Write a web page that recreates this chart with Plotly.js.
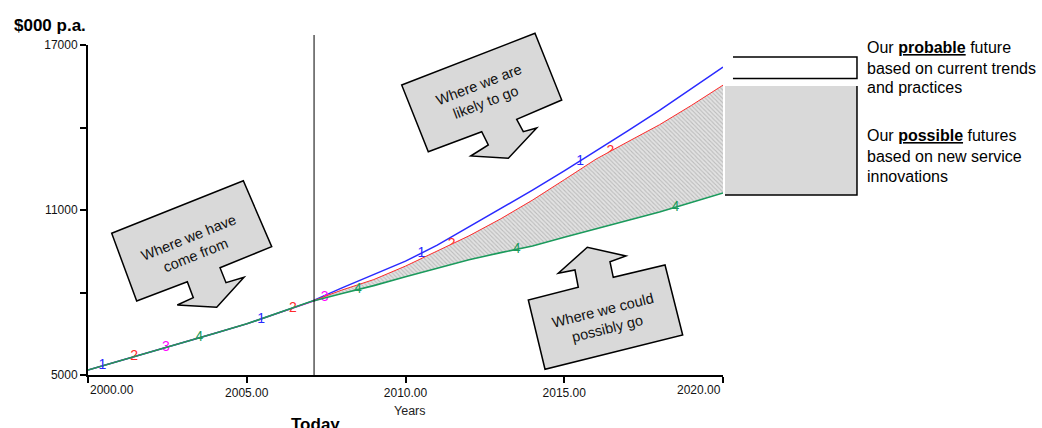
<!DOCTYPE html>
<html>
<head>
<meta charset="utf-8">
<script src="https://cdn.plot.ly/plotly-3.0.1.min.js"></script>
<style>
  html, body { margin: 0; padding: 0; background: #fff; }
  #chart { width: 1042px; height: 428px; }
</style>
</head>
<body>
<div id="chart"></div>
<script>
// Annual spend, $000 p.a.
const YEARS = [2000, 2001, 2002, 2003, 2004, 2005, 2006, 2007, 2008, 2009, 2010,
               2011, 2012, 2013, 2014, 2015, 2016, 2017, 2018, 2019, 2020];

// Shared history 2000-2007
const HISTORY = [5180, 5510, 5850, 6180, 6520, 6860, 7250, 7660];

// Projections 2008-2020
const FUTURE_1 = [8170, 8650, 9140, 9720, 10390, 11030, 11720, 12420, 13140, 13880, 14620, 15400, 16200];
const FUTURE_2 = [8090, 8470, 8960, 9500, 10060, 10680, 11360, 12100, 12850, 13480, 14100, 14800, 15540];
const FUTURE_3 = [8030, 8360, 8720, 9100, 9500, 9920, 10350, 10800, 11270, 11760, 12270, 12820, 13420];
const FUTURE_4 = [7960, 8250, 8570, 8880, 9190, 9450, 9690, 10010, 10310, 10620, 10930, 11270, 11620];

const SERIES_1 = HISTORY.concat(FUTURE_1);
const SERIES_2 = HISTORY.concat(FUTURE_2);
const SERIES_3 = HISTORY.concat(FUTURE_3);
const SERIES_4 = HISTORY.concat(FUTURE_4);

// Where each run's number tag sits along its line
const TAG_YEARS_1 = [2000.45, 2005.45, 2010.5, 2015.5];
const TAG_YEARS_2 = [2001.45, 2006.45, 2011.45, 2016.45];
const TAG_YEARS_3 = [2002.45, 2007.45, 2012.45, 2017.45];
const TAG_YEARS_4 = [2003.5, 2008.5, 2013.5, 2018.5];

const TODAY = 2007.12;

const X_TICKS = [2000, 2005, 2010, 2015, 2020];
const Y_TICKS = [5000, 8000, 11000, 14000, 17000];
const Y_TICK_TEXT = ['5000', '', '11000', '', '17000'];

const COLORS = { s1: '#2a2aff', s2: '#ff2a2a', s3: '#ff00ff', s4: '#1b9a5c' };
const FONT = 'Liberation Sans, Arial, Helvetica, sans-serif';
const TICK_FONT = { family: FONT, size: 12, color: '#111' };

// value of a series at a fractional year, for placing the tags on the line
function valueAt(series, year) {
  for (let i = 0; i < YEARS.length - 1; i++) {
    if (year >= YEARS[i] && year <= YEARS[i + 1]) {
      const t = (year - YEARS[i]) / (YEARS[i + 1] - YEARS[i]);
      return series[i] + t * (series[i + 1] - series[i]);
    }
  }
  return series[series.length - 1];
}

function tagTrace(series, tagYears, label, color) {
  return {
    x: tagYears,
    y: tagYears.map(yr => valueAt(series, yr)),
    mode: 'text',
    text: tagYears.map(() => label),
    textposition: 'middle center',
    textfont: { family: FONT, size: 14, color: color },
    hoverinfo: 'skip',
    cliponaxis: false
  };
}

function lineTrace(series, color, width) {
  return {
    x: YEARS, y: series, mode: 'lines',
    line: { color: color, width: width },
    hoverinfo: 'skip'
  };
}

// run 4 fills up to run 2: the band of possible futures
const fillRange = lineTrace(SERIES_4, COLORS.s4, 1.6);
fillRange.fill = 'tonexty';
fillRange.fillcolor = '#d9d9d9';
fillRange.fillpattern = { shape: '\\', size: 3, solidity: 0.35, fgcolor: '#bcbcbc', bgcolor: '#e2e2e2' };

const traces = [
  lineTrace(SERIES_1, COLORS.s1, 1.5),
  lineTrace(SERIES_3, COLORS.s3, 1),
  tagTrace(SERIES_3, TAG_YEARS_3, '3', COLORS.s3),
  tagTrace(SERIES_2, TAG_YEARS_2, '2', COLORS.s2),
  lineTrace(SERIES_2, COLORS.s2, 1),
  fillRange,
  tagTrace(SERIES_4, TAG_YEARS_4, '4', COLORS.s4),
  tagTrace(SERIES_1, TAG_YEARS_1, '1', COLORS.s1)
];

// plot-area geometry, used to place the callouts and side notes in page pixels
const M = { l: 88, r: 319, t: 45, b: 53 };
const W = 1042, H = 428;
const PW = W - M.l - M.r, PH = H - M.t - M.b;
const px = X => (X - M.l) / PW;
const py = Y => (H - M.b - Y) / PH;
const path = (pts, close) =>
  'M' + pts.map(p => px(p[0]).toFixed(4) + ',' + py(p[1]).toFixed(4)).join(' L') + (close ? ' Z' : '');

const calloutStyle = {
  type: 'path', xref: 'paper', yref: 'paper',
  fillcolor: '#d9d9d9', line: { color: '#000', width: 1.5 }
};

const calloutPast = [[111.7, 233.3], [243.3, 180.7], [271.7, 246.7], [220, 267.7], [226, 282.7],
  [244, 277.3], [216.7, 307.3], [177.3, 305], [193.3, 297.7], [187.3, 281.7], [136.7, 301]];
const calloutLikely = [[401.7, 85], [535, 33.3], [561.7, 100], [516.7, 119.3], [523.3, 131.7],
  [536.7, 128], [508.3, 158.3], [470.7, 156], [488.3, 145], [481.7, 131.7], [428.3, 151.7]];
const calloutPossible = [[545, 369.3], [528.3, 300], [578.3, 287.3], [575, 270], [558.3, 273.3],
  [587.3, 247.3], [626, 256], [610, 261.7], [613.3, 277.3], [665, 265], [682.7, 335]];

const shapes = [
  // "Today" marker
  { type: 'line', xref: 'x', yref: 'paper', x0: TODAY, x1: TODAY, y0: 0, y1: py(35),
    line: { color: '#000', width: 1 } },
  Object.assign({ path: path(calloutPast, true) }, calloutStyle),
  Object.assign({ path: path(calloutLikely, true) }, calloutStyle),
  Object.assign({ path: path(calloutPossible, true) }, calloutStyle),
  // key boxes on the right
  { type: 'path', xref: 'paper', yref: 'paper', path: path([[733, 57], [857, 57], [857, 78.5], [733, 78.5]], false),
    fillcolor: 'rgba(0,0,0,0)', line: { color: '#000', width: 1.5 } },
  { type: 'rect', xref: 'paper', yref: 'paper', x0: px(725), x1: px(857), y0: py(195), y1: py(86),
    fillcolor: '#d9d9d9', line: { width: 0 } },
  { type: 'path', xref: 'paper', yref: 'paper', path: path([[857, 86], [857, 195], [725, 195]], false),
    fillcolor: 'rgba(0,0,0,0)', line: { color: '#000', width: 1.5 } }
];

function note(text, X, Y, opts) {
  return Object.assign({
    text: text, xref: 'paper', yref: 'paper', x: px(X), y: py(Y),
    xanchor: 'center', yanchor: 'middle', showarrow: false,
    font: { family: FONT, size: 14.5, color: '#111' }
  }, opts || {});
}

// the first and last year labels sit inside the axis ends
const fmtYear = v => v.toFixed(2);
const X_TICK_TEXT = X_TICKS.map((v, i) => (i === 0 || i === X_TICKS.length - 1) ? '' : fmtYear(v));
const endLabel = (v, anchor) => ({
  text: fmtYear(v), xref: 'x', yref: 'paper', x: v, y: py(390),
  xanchor: anchor, yanchor: 'middle', showarrow: false, font: TICK_FONT
});

const sideFont = { family: FONT, size: 16, color: '#000' };
const annotations = [
  endLabel(X_TICKS[0], 'left'),
  endLabel(X_TICKS[X_TICKS.length - 1], 'right'),
  note('<b>$000 p.a.</b>', 12, 25, { xanchor: 'left', font: { family: FONT, size: 17, color: '#000' } }),
  note('<b>Today</b>', 315, 424, { font: { family: FONT, size: 17, color: '#000' } }),
  note('Years', 410, 411, { font: { family: FONT, size: 12.5, color: '#222' } }),
  note('Where we have<br>come from', 192, 247, { textangle: -22 }),
  note('Where we are<br>likely to go', 482, 93, { textangle: -21 }),
  note('Where we could<br>possibly go', 605, 319, { textangle: -14 }),
  note('Our <b><u>probable</u></b> future', 865, 47, { xanchor: 'left', font: sideFont }),
  note('based on current trends', 865, 68, { xanchor: 'left', font: sideFont }),
  note('and practices', 865, 88, { xanchor: 'left', font: sideFont }),
  note('Our <b><u>possible</u></b> futures', 865, 135, { xanchor: 'left', font: sideFont }),
  note('based on new service', 865, 156, { xanchor: 'left', font: sideFont }),
  note('innovations', 865, 176, { xanchor: 'left', font: sideFont })
];

const axisCommon = {
  showline: true, linecolor: '#000', linewidth: 2,
  ticks: 'outside', ticklen: 6, tickwidth: 2, tickcolor: '#000',
  showgrid: false, zeroline: false, fixedrange: true,
  tickfont: TICK_FONT
};

const layout = {
  width: W, height: H,
  margin: { l: M.l, r: M.r, t: M.t, b: M.b, pad: 0 },
  paper_bgcolor: '#fff', plot_bgcolor: '#fff',
  showlegend: false,
  xaxis: Object.assign({}, axisCommon, {
    range: [2000, 2020], tickmode: 'array', tickvals: X_TICKS, ticktext: X_TICK_TEXT
  }),
  yaxis: Object.assign({}, axisCommon, {
    range: [5000, 17000], tickmode: 'array', tickvals: Y_TICKS, ticktext: Y_TICK_TEXT
  }),
  shapes: shapes,
  annotations: annotations
};

Plotly.newPlot('chart', traces, layout, { staticPlot: true, displayModeBar: false });
</script>
</body>
</html>
